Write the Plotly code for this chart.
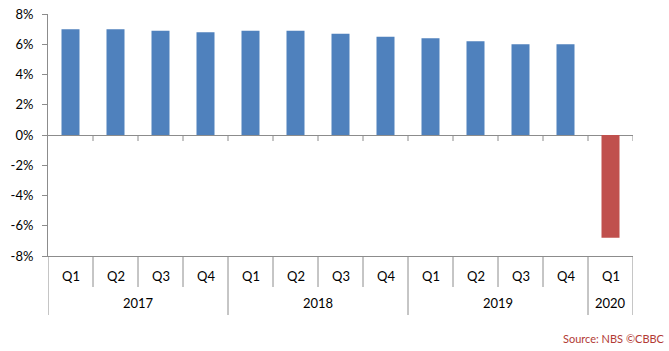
import plotly.graph_objects as go

# ---- data ----
years = ["2017", "2018", "2019", "2020"]
quarters = ["Q1", "Q2", "Q3", "Q4", "Q1", "Q2", "Q3", "Q4", "Q1", "Q2", "Q3", "Q4", "Q1"]
quarter_year = ["2017"] * 4 + ["2018"] * 4 + ["2019"] * 4 + ["2020"]
gdp_growth = [7.0, 7.0, 6.9, 6.8, 6.9, 6.9, 6.7, 6.5, 6.4, 6.2, 6.0, 6.0, -6.8]
y_tick_vals = [8, 6, 4, 2, 0, -2, -4, -6, -8]
y_tick_text = ["8%", "6%", "4%", "2%", "0%", "-2%", "-4%", "-6%", "-8%"]
source_text = "Source: NBS ©CBBC"

# ---- styles ----
BLUE = "#4F81BD"
RED = "#C0504D"
GRAY = "#8C8C8C"
FONT = "Lato"

idx = list(range(len(quarters)))
colors = [RED if v < 0 else BLUE for v in gdp_growth]

fig = go.Figure()
fig.add_trace(go.Bar(x=idx, y=gdp_growth, marker=dict(color=colors, line=dict(width=0)),
                     width=0.4, hoverinfo="skip"))

shapes = []
n = len(quarters)
# year boundaries
year_bounds = set()
for i in range(n):
    if i == 0 or quarter_year[i] != quarter_year[i - 1]:
        year_bounds.add(i)
year_bounds.add(n)

for k in range(n + 1):
    xb = k - 0.5
    # small ticks along the zero line
    if k > 0:
        shapes.append(dict(type="line", xref="x", yref="y", ysizemode="pixel", yanchor=0,
                           x0=xb, x1=xb, y0=0, y1=-6, line=dict(color=GRAY, width=1)))
    # category table lines below the plot
    depth = 59 if k in year_bounds else 31
    shapes.append(dict(type="line", xref="x", yref="paper", ysizemode="pixel", yanchor=0,
                       x0=xb, x1=xb, y0=0, y1=-depth, line=dict(color=GRAY, width=1)))

annotations = []
for yr in years:
    members = [i for i in idx if quarter_year[i] == yr]
    cx = sum(members) / len(members)
    annotations.append(dict(x=cx, xref="x", y=0, yref="paper", yshift=-47, yanchor="middle",
                            text=yr, showarrow=False, font=dict(family=FONT, size=13, color="#000000")))
for i in idx:
    annotations.append(dict(x=i, xref="x", y=0, yref="paper", yshift=-20, yanchor="middle",
                            text=quarters[i], showarrow=False, font=dict(family=FONT, size=13, color="#000000")))
annotations.append(dict(x=1, xref="paper", xanchor="right", xshift=34, y=0, yref="paper",
                        yshift=-82, yanchor="middle", text=source_text, showarrow=False,
                        font=dict(family=FONT, size=11, color="#B23A35")))

fig.update_layout(
    width=669, height=351,
    margin=dict(l=48, r=36, t=14, b=95, autoexpand=False),
    paper_bgcolor="white", plot_bgcolor="white",
    showlegend=False,
    font=dict(family=FONT, size=13, color="#000000"),
    shapes=shapes, annotations=annotations,
    xaxis=dict(range=[-0.5, n - 0.5], showticklabels=False, ticks="", showgrid=False,
               zeroline=False, showline=True, linecolor=GRAY, linewidth=1, fixedrange=True,
               automargin=False),
    yaxis=dict(range=[-8, 8], tickvals=y_tick_vals, ticktext=y_tick_text, ticks="outside",
               ticklen=5, tickcolor=GRAY, showline=True, linecolor=GRAY, linewidth=1,
               showgrid=False, zeroline=True, zerolinecolor=GRAY, zerolinewidth=1,
               ticklabelstandoff=6, fixedrange=True, automargin=False),
)

fig.write_html("out.html")
